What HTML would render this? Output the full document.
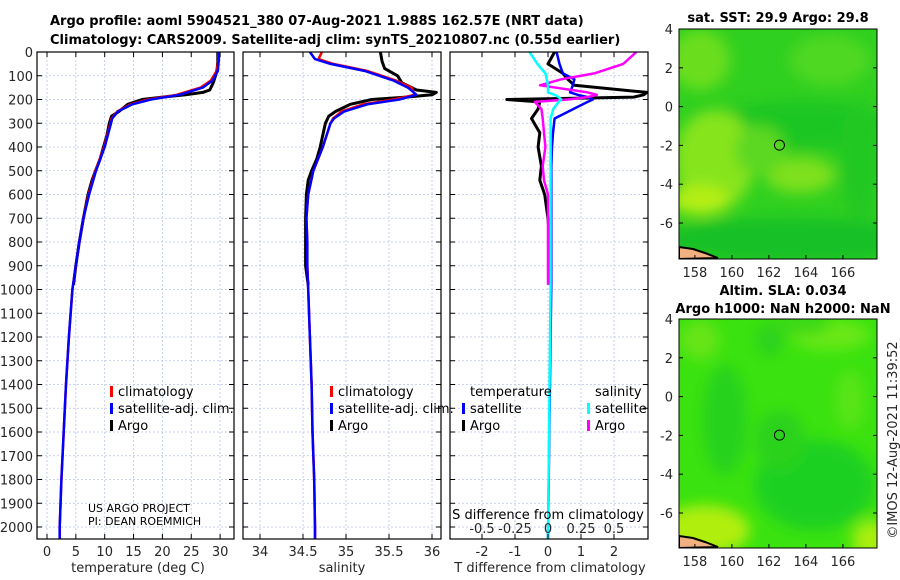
<!DOCTYPE html>
<html><head><meta charset="utf-8">
<style>
html,body{margin:0;padding:0;background:#fff;}
svg{display:block;font-family:"DejaVu Sans","Liberation Sans",sans-serif;}
.tk{font-size:13px;fill:#262626;}
.tt{font-size:13px;font-weight:bold;fill:#000;}
.lg{font-size:13px;fill:#000;}
</style></head>
<body>
<svg id="fig" width="900" height="580" viewBox="0 0 900 580">
<defs>
<clipPath id="c1"><rect x="37" y="52" width="197" height="487"/></clipPath>
<clipPath id="c2"><rect x="243" y="52" width="198" height="487"/></clipPath>
<clipPath id="c3"><rect x="450" y="52" width="198" height="487"/></clipPath>
<clipPath id="m1"><rect x="679" y="29" width="198" height="230"/></clipPath>
<clipPath id="m2"><rect x="679" y="319" width="198" height="229"/></clipPath>
<filter id="bl"><feGaussianBlur stdDeviation="7"/></filter>
</defs>
<text class="tt" x="50" y="25">Argo profile: aoml 5904521_380 07-Aug-2021 1.988S 162.57E (NRT data)</text>
<text class="tt" x="50" y="44">Climatology: CARS2009. Satellite-adj clim: synTS_20210807.nc (0.55d earlier)</text>
<g id="grids"></g>
<g id="marks"></g>
<g id="axes"></g>
<g id="maps"></g>
<text class="lg" x="118" y="396">climatology</text>
<text class="lg" x="118" y="413">satellite-adj. clim.</text>
<text class="lg" x="118" y="430">Argo</text>
<rect x="110" y="386" width="3" height="11" fill="#f00"/><rect x="110" y="403" width="3" height="11" fill="#00f"/><rect x="110" y="420" width="3" height="11" fill="#000"/>
<text class="lg" x="338" y="396">climatology</text>
<text class="lg" x="338" y="413">satellite-adj. clim.</text>
<text class="lg" x="338" y="430">Argo</text>
<rect x="330" y="386" width="3" height="11" fill="#f00"/><rect x="330" y="403" width="3" height="11" fill="#00f"/><rect x="330" y="420" width="3" height="11" fill="#000"/>
<text class="lg" x="470" y="396">temperature</text>
<text class="lg" x="470" y="413">satellite</text>
<text class="lg" x="470" y="430">Argo</text>
<rect x="462" y="403" width="3" height="11" fill="#00f"/><rect x="462" y="420" width="3" height="11" fill="#000"/>
<text class="lg" x="595" y="396">salinity</text>
<text class="lg" x="595" y="413">satellite</text>
<text class="lg" x="595" y="430">Argo</text>
<rect x="587" y="403" width="3" height="11" fill="#0ff"/><rect x="587" y="420" width="3" height="11" fill="#f0f"/>
<text x="88" y="512" font-size="11" fill="#000">US ARGO PROJECT</text>
<text x="88" y="525" font-size="11" fill="#000">PI: DEAN ROEMMICH</text>
<text class="lg" x="548" y="519" text-anchor="middle">S difference from climatology</text>
<text class="tk" x="138" y="572" text-anchor="middle">temperature (deg C)</text>
<text class="tk" x="342" y="572" text-anchor="middle">salinity</text>
<text class="tk" x="550" y="572" text-anchor="middle">T difference from climatology</text>
<text class="tt" x="778" y="22" text-anchor="middle">sat. SST: 29.9 Argo: 29.8</text>
<text class="tt" x="783" y="295" text-anchor="middle">Altim. SLA: 0.034</text>
<text class="tt" x="783" y="313" text-anchor="middle">Argo h1000: NaN h2000: NaN</text>
<text x="897" y="440" font-size="13" fill="#262626" text-anchor="middle" transform="rotate(-90 897 440)">©IMOS 12-Aug-2021 11:39:52</text>
</svg>
<script>
// ---- data ----
const depthTicks=[0,100,200,300,400,500,600,700,800,900,1000,1100,1200,1300,1400,1500,1600,1700,1800,1900,2000];
const tempTicks=[0,5,10,15,20,25,30];
const salTicks=[34,34.5,35,35.5,36];
const salTickLabels=["34","34.5","35","35.5","36"];
const tdiffTicks=[-2,-1,0,1,2];
const sdiffTicks=[-0.5,-0.25,0,0.25,0.5];
const sdiffTickLabels=["-0.5","-0.25","0","0.25","0.5"];
const climDepth=[0,30,50,80,120,150,180,200,220,250,280,300,400,500,600,700,800,900,1000,1200,1400,1600,1800,2000,2050];
const climT=[29.7,29.7,29.6,29.4,28.4,26.6,22.5,17.5,14.5,12.2,11.2,11.0,9.9,8.4,7.2,6.3,5.6,5.0,4.4,3.8,3.3,2.9,2.5,2.2,2.2];
const satT=[29.8,29.8,29.7,29.6,28.7,27.0,23.0,18.0,14.8,12.3,11.3,11.1,10.0,8.5,7.3,6.3,5.6,5.0,4.4,3.8,3.3,2.9,2.5,2.2,2.2];
const climS=[34.72,34.68,34.85,35.25,35.58,35.76,35.8,35.55,35.2,34.95,34.85,34.82,34.73,34.62,34.56,34.54,34.55,34.55,34.56,34.58,34.6,34.61,34.63,34.64,34.64];
const satS=[34.58,34.64,34.82,35.22,35.55,35.72,35.82,35.62,35.25,34.98,34.86,34.82,34.73,34.62,34.56,34.54,34.55,34.55,34.56,34.58,34.6,34.61,34.63,34.64,34.64];
const argoDepth=[0,40,70,100,130,160,170,180,190,200,220,250,270,300,350,400,450,500,540,600,700,800,900,980];
const argoT=[29.6,29.6,29.5,29.2,28.8,28.2,27,24,20,16.5,14,12.5,11.2,10.8,10.4,9.8,9.2,8.4,7.8,7.1,6.3,5.6,5.0,4.6];
const argoS=[35.4,35.42,35.45,35.6,35.65,35.82,36.05,36.0,35.7,35.3,35.05,34.88,34.8,34.76,34.73,34.7,34.66,34.6,34.56,34.54,34.53,34.53,34.53,34.56];
const diffDepth=[0,50,90,115,140,170,180,190,200,210,240,280,340,400,480,540,600,700,800,900,980];
const tdSat=[0.26,0.35,0.45,0.8,0.75,0.67,0.9,1.2,1.36,1.2,0.77,0.2,0.15,0.12,0.1,0.1,0.1,0.1,0.1,0.1,0.1];
const tdArgo=[0.2,0,0.45,0.6,0.8,3.0,2.9,2.6,-1.25,-0.25,-0.3,-0.5,-0.25,-0.3,-0.2,-0.25,-0.1,0,0.05,0.05,0.05];
const sdSat=[-0.14,-0.08,-0.02,-0.01,0,0,0.05,0.08,0.1,0.08,0.04,0.02,0.02,0.02,0.02,0.02,0.02,0.02,0.02,0.02,0.02];
const sdArgo=[0.67,0.57,0.35,0.1,-0.06,0.3,0.37,0.3,0.15,-0.1,-0.05,-0.04,-0.03,-0.02,-0.04,-0.03,0,0,0,0,0];
const sdSatDeep=[[980,0.02],[1500,0.01],[2050,0]];
const tdSatDeep=[[980,0.1],[1500,0.05],[2050,0]];
const lonTicks=[158,160,162,164,166];
const latTicks=[4,2,0,-2,-4,-6];
const floatLon=162.57, floatLat=-1.988;
// ---- scales ----
const yD=d=>52+d*0.2375;
const xT=t=>47+t*5.77;
const xS=s=>260+(s-34)*86;
const xTd=t=>548+t*33;
const xSd=s=>548+s*132;
const NS="http://www.w3.org/2000/svg";
function mk(tag,attrs,parent){const e=document.createElementNS(NS,tag);for(const k in attrs)e.setAttribute(k,attrs[k]);parent.appendChild(e);return e;}
const G=document.getElementById('grids'),M=document.getElementById('marks'),A=document.getElementById('axes'),MP=document.getElementById('maps');
const panels=[{x0:37,x1:234,xs:xT,ticks:tempTicks,labels:tempTicks.map(String),clip:'c1',name:'temperature'},
{x0:243,x1:441,xs:xS,ticks:salTicks,labels:salTickLabels,clip:'c2',name:'salinity'},
{x0:450,x1:648,xs:xTd,ticks:tdiffTicks,labels:tdiffTicks.map(String),clip:'c3',name:'t-diff'}];
panels.forEach((p,i)=>{
  depthTicks.forEach(d=>{const l=mk('line',{x1:p.x0,x2:p.x1,y1:yD(d),y2:yD(d),stroke:'#b8c4e8','stroke-width':0.8,'stroke-dasharray':'2,2'},G);
    
    mk('line',{x1:p.x0,x2:p.x0+5,y1:yD(d),y2:yD(d),stroke:'#000'},A);mk('line',{x1:p.x1-5,x2:p.x1,y1:yD(d),y2:yD(d),stroke:'#000'},A);});
  p.ticks.forEach((t,j)=>{const x=p.xs(t);const l=mk('line',{x1:x,x2:x,y1:52,y2:539,stroke:'#b8c4e8','stroke-width':0.8,'stroke-dasharray':'2,2'},G);
    
    mk('line',{x1:x,x2:x,y1:534,y2:539,stroke:'#000'},A);mk('line',{x1:x,x2:x,y1:52,y2:57,stroke:'#000'},A);
    const tx=mk('text',{x:x,y:556,'text-anchor':'middle',class:'tk'},A);tx.textContent=p.labels[j];
    });
  const r=mk('rect',{x:p.x0,y:52,width:p.x1-p.x0,height:487,fill:'none',stroke:'#000','stroke-width':1.2},A);
  
});
depthTicks.forEach(d=>{const t=mk('text',{x:33,y:yD(d)+5,'text-anchor':'end',class:'tk'},A);t.textContent=d;
  });
sdiffTicks.forEach((s,j)=>{const t=mk('text',{x:xSd(s),y:533,'text-anchor':'middle',class:'tk'},A);t.textContent=sdiffTickLabels[j];
  });
function line(ds,vs,xs,color,w,clip,name){const pts=ds.map((d,i)=>xs(vs[i]).toFixed(1)+','+yD(d).toFixed(1)).join(' ');
  const e=mk('polyline',{points:pts,fill:'none',stroke:color,'stroke-width':w,'stroke-linejoin':'round','clip-path':'url(#'+clip+')'},M);
  }
line(argoDepth,argoT,xT,'#000',3,'c1','argo-temperature-line');
line(climDepth,climT,xT,'#f00',2.5,'c1','climatology-temperature-line');
line(climDepth,satT,xT,'#00f',2.5,'c1','satellite-temperature-line');
line(argoDepth,argoS,xS,'#000',3,'c2','argo-salinity-line');
line(climDepth,climS,xS,'#f00',2.5,'c2','climatology-salinity-line');
line(climDepth,satS,xS,'#00f',2.5,'c2','satellite-salinity-line');
line(diffDepth,tdArgo,xTd,'#000',3,'c3','argo-t-diff-line');
line(diffDepth.concat(tdSatDeep.map(a=>a[0])),tdSat.concat(tdSatDeep.map(a=>a[1])),xTd,'#00f',2.5,'c3','satellite-t-diff-line');
line(diffDepth,sdArgo,xSd,'#f0f',2.5,'c3','argo-s-diff-line');
line(diffDepth.concat(sdSatDeep.map(a=>a[0])),sdSat.concat(sdSatDeep.map(a=>a[1])),xSd,'#0ff',2.5,'c3','satellite-s-diff-line');
// ---- maps ----
const maps=[{y0:29,y1:259,clip:'m1',name:'sst-map',base:'#30d020',blobs:[
  [700,60,30,30,'#6ade1e'],[830,60,40,25,'#50d820'],[800,125,90,25,'#1cc624'],
  [715,160,40,50,'#86e41c'],[700,200,30,15,'#b4ee12'],[800,175,35,18,'#7ee01c'],
  [760,150,25,25,'#5cd820'],[790,240,130,22,'#14c028'],[860,160,20,60,'#22c824']]},
 {y0:319,y1:548,clip:'m2',name:'sla-map',base:'#3ae210',blobs:[
  [725,420,22,55,'#28d21c'],[815,485,60,45,'#1ed022'],[780,440,25,30,'#2ad21c'],
  [770,340,14,16,'#2ad21c'],[830,335,40,15,'#6ae818'],[800,325,30,10,'#3ad818'],
  [705,530,45,25,'#b0ee10'],[872,540,20,20,'#a8ee10'],[850,400,15,30,'#58e414'],[700,340,20,20,'#66e416']]}];
const lonX=l=>679+(l-157.14)*18.5;
maps.forEach(m=>{const latY=la=>m.y0+(4-la)*19.4;
  const g=mk('g',{'clip-path':'url(#'+m.clip+')'},MP);
  mk('rect',{x:679,y:m.y0,width:198,height:m.y1-m.y0,fill:m.base},g);
  const bg=mk('g',{filter:'url(#bl)'},g);
  m.blobs.forEach(b=>mk('ellipse',{cx:b[0],cy:b[1],rx:b[2],ry:b[3],fill:b[4]},bg));
  mk('path',{d:`M679 ${m.y1-12} L693 ${m.y1-10} L705 ${m.y1-6} L718 ${m.y1-1} L679 ${m.y1} Z`,fill:'#f0b080',stroke:'#000','stroke-width':2},g);
  const c=mk('circle',{cx:lonX(floatLon),cy:latY(floatLat),r:5,fill:'none',stroke:'#000','stroke-width':1},g);
  
  mk('rect',{x:679,y:m.y0,width:198,height:m.y1-m.y0,fill:'none',stroke:'#000'},MP);
  latTicks.forEach(la=>{const t=mk('text',{x:673,y:latY(la)+5,'text-anchor':'end',class:'tk'},MP);t.textContent=la;
    
    mk('line',{x1:679,x2:683,y1:latY(la),y2:latY(la),stroke:'#000'},MP);mk('line',{x1:873,x2:877,y1:latY(la),y2:latY(la),stroke:'#000'},MP);});
  lonTicks.forEach(lo=>{const t=mk('text',{x:lonX(lo),y:m.y1+18,'text-anchor':'middle',class:'tk'},MP);t.textContent=lo;
    
    mk('line',{x1:lonX(lo),x2:lonX(lo),y1:m.y1-4,y2:m.y1,stroke:'#000'},MP);});
});
</script>
</body></html>
